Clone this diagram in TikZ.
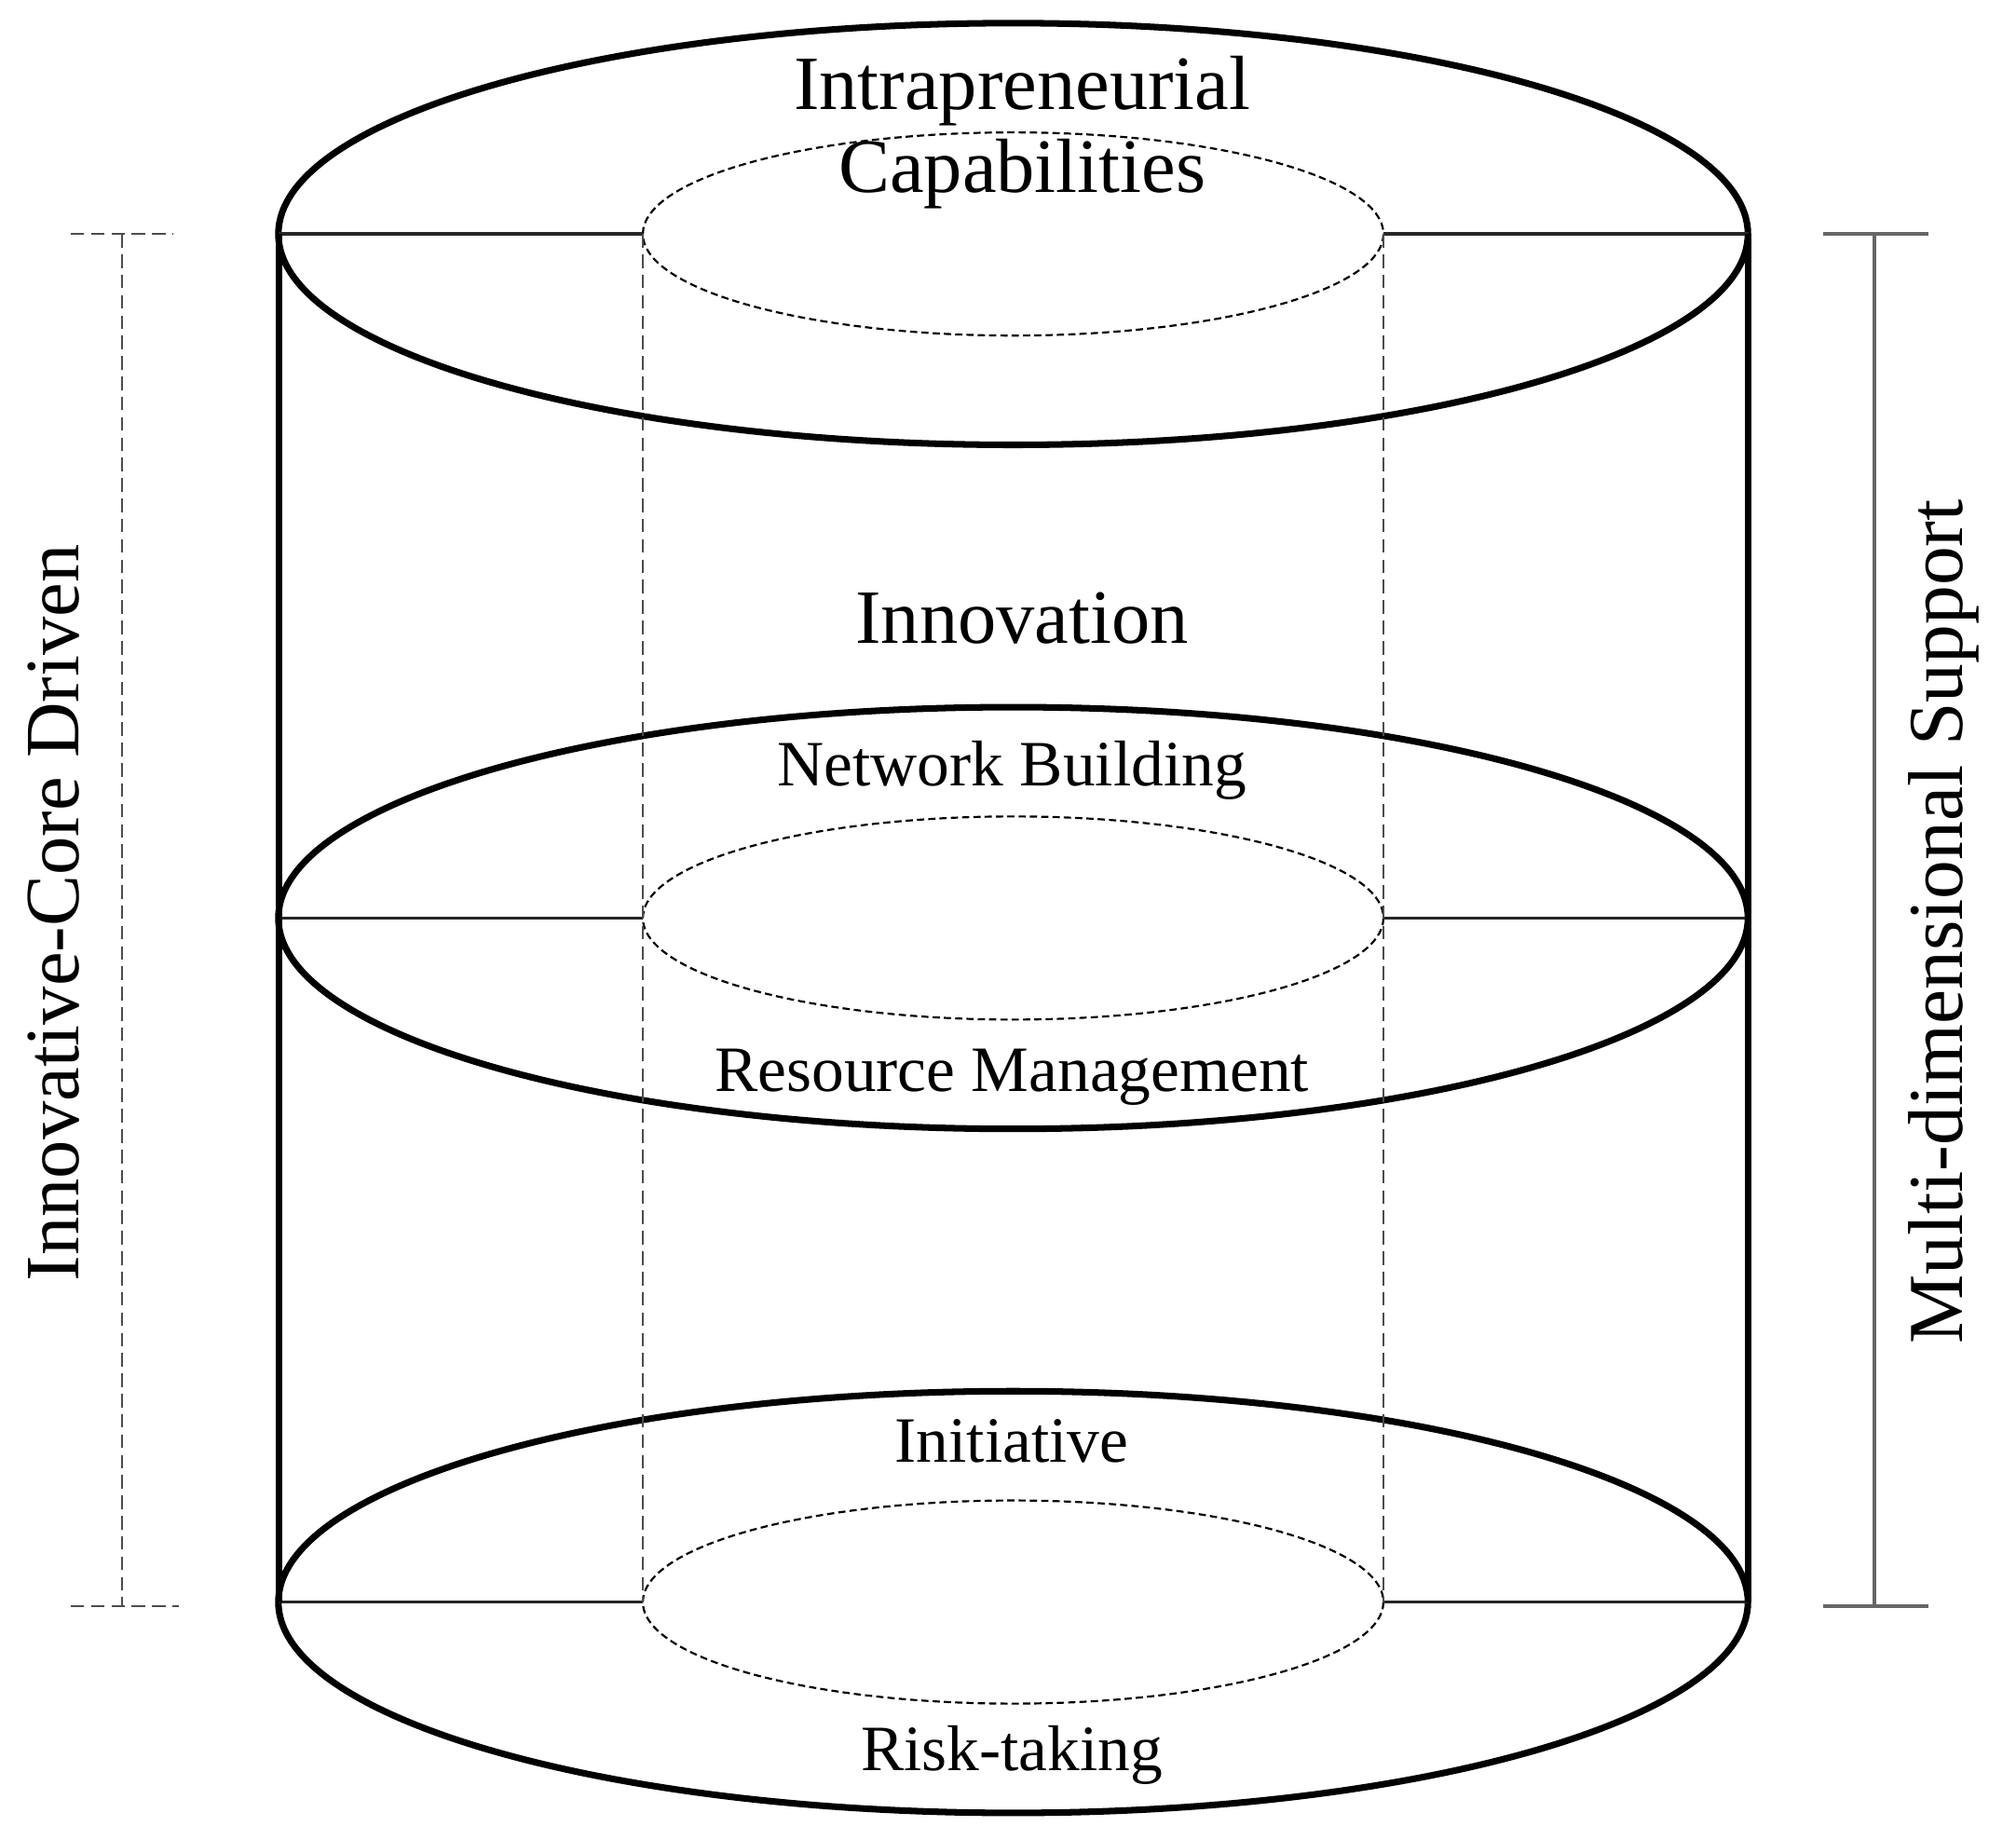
\documentclass[tikz,border=0pt]{standalone}
\usepackage{fontspec}
\setmainfont{Liberation Serif}
\usetikzlibrary{calc}

\begin{document}
\begin{tikzpicture}[x=0.01cm,y=-0.01cm,
	rim/.style={line width=1.45pt},
	tie/.style={line width=0.7pt,black!85},
	core/.style={line width=0.45pt,dash pattern=on 1.6pt off 0.9pt},
	shaft/.style={line width=0.5pt,black!70,dash pattern=on 3pt off 1.5pt},
	lbar/.style={line width=0.5pt,black!70,dash pattern=on 3pt off 1.5pt},
	rbar/.style={line width=0.9pt,black!60},
	big/.style={font=\fontsize{17}{18.5}\selectfont,align=center},
	small/.style={font=\fontsize{14.3}{17}\selectfont}]
	\useasboundingbox (0,0) rectangle (1568,1431);

	% three levels of the cylinder
	\foreach \lv/\yy in {top/182,mid/714,bot/1246}{
	  \coordinate (\lv-c)  at (788,\yy);
	  \coordinate (\lv-ol) at (217,\yy);
	  \coordinate (\lv-or) at (1360,\yy);
	  \coordinate (\lv-il) at (500,\yy);
	  \coordinate (\lv-ir) at (1076,\yy);
	  \draw[rim] (\lv-c) ellipse [x radius=571.5,y radius=164];
	  \draw[core] (\lv-c) ellipse [x radius=288,y radius=79];
	  \draw[tie] (\lv-ol) -- (\lv-il) (\lv-ir) -- (\lv-or);
	}
	\draw[rim] (top-ol) -- (bot-ol) (top-or) -- (bot-or);
	\draw[shaft] (top-il) -- (bot-il) (top-ir) -- (bot-ir);

	% side brackets
	\coordinate (lt) at (95,182);   \coordinate (lb) at (95,1249);
	\coordinate (rt) at (1458,182); \coordinate (rb) at (1458,1249);
	\draw[lbar] (lt) -- (lb);
	\draw[lbar] ($(lt)+(-40,0)$) -- ($(lt)+(40,0)$);
	\draw[lbar] ($(lb)+(-40,0)$) -- ($(lb)+(44,0)$);
	\draw[rbar] (rt) -- (rb);
	\draw[rbar] ($(rt)+(-40,0)$) -- ($(rt)+(42,0)$);
	\draw[rbar] ($(rb)+(-40,0)$) -- ($(rb)+(42,0)$);

	% labels
	\node[big] (cap) at (795,103) {Intrapreneurial\\Capabilities};
	\node[big,anchor=base] (inno) at (795,500) {Innovation};
	\node[small,anchor=base] (net) at (787,611) {Network Building};
	\node[small,anchor=base] (res) at (787,849) {Resource Management};
	\node[small,anchor=base] (ini) at (787,1137) {Initiative};
	\node[small,anchor=base] (risk) at (787,1377) {Risk-taking};
	\node[big,rotate=90] (core) at (42,710) {Innovative-Core Driven};
	\node[big,rotate=90,font=\fontsize{17.2}{18}\selectfont] (supp) at (1512,717) {Multi-dimensional Support};
\end{tikzpicture}
\end{document}
